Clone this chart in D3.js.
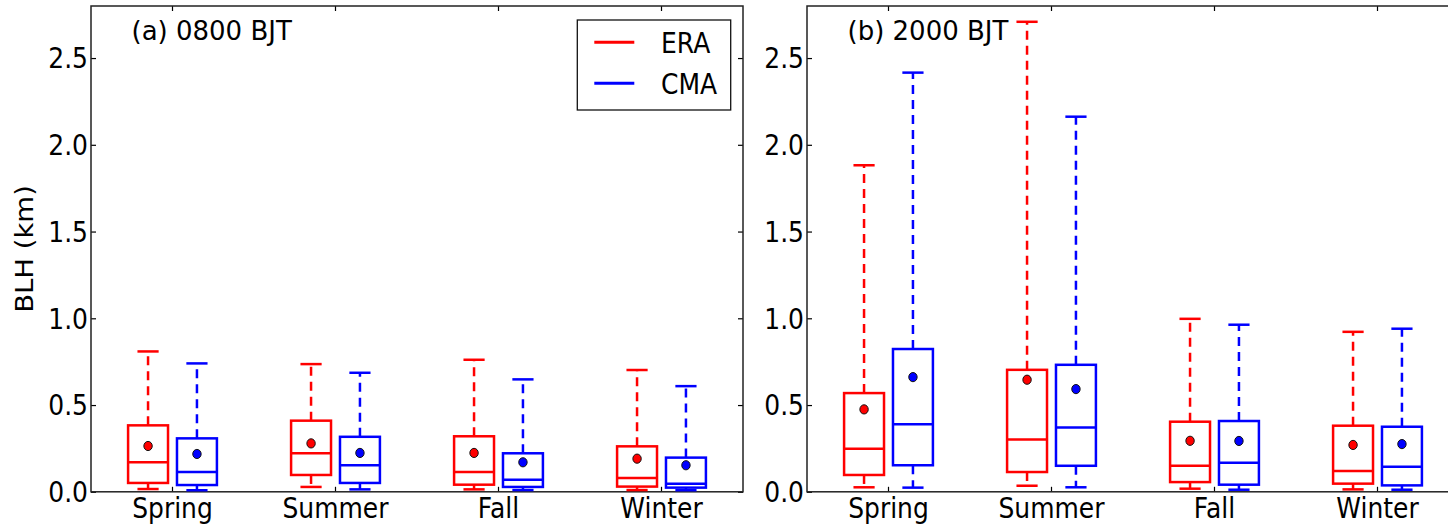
<!DOCTYPE html>
<html>
<head>
<meta charset="utf-8">
<script src="https://cdn.jsdelivr.net/npm/d3@7"></script>
<style>
  body { margin: 0; background: #fff; }
  svg { display: block; }
  text { font-family: "DejaVu Sans", sans-serif; fill: #000; }
</style>
</head>
<body>
<svg id="chart" width="1448" height="526"></svg>
<script>
// Seasons along the x axis
const seasons = ["Spring", "Summer", "Fall", "Winter"];
const yTicks = [0, 0.5, 1.0, 1.5, 2.0, 2.5];
const seriesNames = ["ERA", "CMA"];
const seriesColors = ["#ff0000", "#0000ff"];

// Box statistics per season, in km: [lower whisker, Q1, median, Q3, upper whisker, mean]
const era0800 = [
  [0.016, 0.051, 0.170, 0.383, 0.809, 0.264],
  [0.028, 0.097, 0.222, 0.410, 0.736, 0.279],
  [0.014, 0.041, 0.114, 0.320, 0.761, 0.224],
  [0.010, 0.030, 0.079, 0.262, 0.702, 0.191]
];
const cma0800 = [
  [0.009, 0.039, 0.114, 0.308, 0.740, 0.218],
  [0.014, 0.051, 0.153, 0.317, 0.686, 0.224],
  [0.010, 0.028, 0.070, 0.222, 0.648, 0.170],
  [0.009, 0.024, 0.047, 0.197, 0.609, 0.153]
];
const era2000 = [
  [0.026, 0.097, 0.248, 0.569, 1.882, 0.475],
  [0.035, 0.114, 0.302, 0.703, 2.709, 0.646],
  [0.018, 0.056, 0.150, 0.404, 0.997, 0.294],
  [0.014, 0.047, 0.120, 0.381, 0.922, 0.270]
];
const cma2000 = [
  [0.024, 0.153, 0.389, 0.823, 2.416, 0.661],
  [0.026, 0.150, 0.371, 0.732, 2.162, 0.592],
  [0.012, 0.041, 0.168, 0.408, 0.963, 0.293],
  [0.012, 0.037, 0.145, 0.375, 0.940, 0.275]
];

const svg = d3.select("#chart");
const plotTop = 6, plotBottom = 491.8, panelW = 652;
const textStretch = "scale(1,1.1)";

const y = d3.scaleLinear().domain([0, 2.8]).range([plotBottom, plotTop]);

const panels = [
  { title: "(a) 0800 BJT", left: 91, data: [era0800, cma0800], legend: true },
  { title: "(b) 2000 BJT", left: 807, data: [era2000, cma2000], legend: false }
];

panels.forEach(p => {
  const x = d3.scaleBand().domain(seasons).range([p.left, p.left + panelW]).padding(0);
  const bw = x.bandwidth();
  const g = svg.append("g");

  const addAxis = (gen, tx, ty) => g.append("g")
    .attr("transform", `translate(${tx},${ty})`)
    .call(gen)
    .attr("color", "#000")
    .attr("font-size", 25)
    .attr("font-family", "DejaVu Sans, sans-serif")
    .call(s => s.select(".domain").remove());

  // left axis with labels, ticks pointing inward
  const yAxis = addAxis(d3.axisLeft(y).tickValues(yTicks).tickSize(-5).tickPadding(3)
    .tickFormat(d3.format(".1f")), p.left, 0);
  yAxis.selectAll("text").attr("dy", "0.36em").attr("transform", textStretch);

  // right axis, ticks only
  addAxis(d3.axisRight(y).tickValues(yTicks).tickSize(-5).tickFormat(""), p.left + panelW, 0);

  // bottom axis with season names
  const xAxis = addAxis(d3.axisBottom(x).tickSize(-5), 0, plotBottom);
  xAxis.selectAll("text").attr("y", 0).attr("dy", 0)
    .attr("transform", "translate(0,26) " + textStretch);

  // top axis, ticks only
  addAxis(d3.axisTop(x).tickSize(-5).tickFormat(""), 0, plotTop);

  g.selectAll(".tick line").attr("stroke-width", 1.2);

  // frame
  g.append("rect")
    .attr("x", p.left).attr("y", plotTop)
    .attr("width", panelW).attr("height", plotBottom - plotTop)
    .attr("fill", "none").attr("stroke", "#222").attr("stroke-width", 1.5);

  // boxes
  const boxW = 0.245 * bw, capW = 0.13 * bw;
  p.data.forEach((rows, si) => {
    const col = seriesColors[si];
    const off = (si === 0 ? -0.15 : 0.15) * bw;
    const sg = g.append("g");
    rows.forEach((r, ci) => {
      const [lo, q1, med, q3, hi, mean] = r;
      const cx = x(seasons[ci]) + bw / 2 + off;
      const bg = sg.append("g");
      // whiskers
      [[q3, hi], [q1, lo]].forEach(([a, b]) => {
        bg.append("line")
          .attr("x1", cx).attr("x2", cx).attr("y1", y(a)).attr("y2", y(b))
          .attr("stroke", col).attr("stroke-width", 2.5).attr("stroke-dasharray", "9,6");
      });
      // caps
      [hi, lo].forEach(v => {
        bg.append("line")
          .attr("x1", cx - capW / 2).attr("x2", cx + capW / 2)
          .attr("y1", y(v)).attr("y2", y(v))
          .attr("stroke", col).attr("stroke-width", 2.5);
      });
      // box
      bg.append("rect")
        .attr("x", cx - boxW / 2).attr("y", y(q3))
        .attr("width", boxW).attr("height", y(q1) - y(q3))
        .attr("fill", "none").attr("stroke", col).attr("stroke-width", 2.5);
      // median
      bg.append("line")
        .attr("x1", cx - boxW / 2).attr("x2", cx + boxW / 2)
        .attr("y1", y(med)).attr("y2", y(med))
        .attr("stroke", col).attr("stroke-width", 2.5);
      // mean
      bg.append("ellipse")
        .attr("cx", cx).attr("cy", y(mean)).attr("rx", 4.2).attr("ry", 4.6)
        .attr("fill", col).attr("stroke", "#111").attr("stroke-width", 1);
    });
  });

  // panel title
  g.append("text")
    .attr("transform", `translate(${p.left + 40.5},40)`)
    .attr("font-size", 26)
    .text(p.title);

  if (p.legend) {
    const lg = g.append("g");
    lg.append("rect")
      .attr("x", 577.3).attr("y", 20).attr("width", 153.4).attr("height", 90)
      .attr("fill", "#fff").attr("stroke", "#111").attr("stroke-width", 1.3);
    seriesNames.forEach((name, i) => {
      const ly = 42.3 + i * 41;
      lg.append("line")
        .attr("x1", 594.3).attr("x2", 634.3).attr("y1", ly).attr("y2", ly)
        .attr("stroke", seriesColors[i]).attr("stroke-width", 3);
      lg.append("text")
        .attr("transform", `translate(661,${ly + 11}) ${textStretch}`)
        .attr("font-size", 25)
        .text(name);
    });
  }
});

// y axis title
svg.append("text")
  .attr("transform", `translate(33,249) rotate(-90) scale(1.1,1)`)
  .attr("text-anchor", "middle")
  .attr("font-size", 25)
  .text("BLH (km)");
</script>
</body>
</html>
